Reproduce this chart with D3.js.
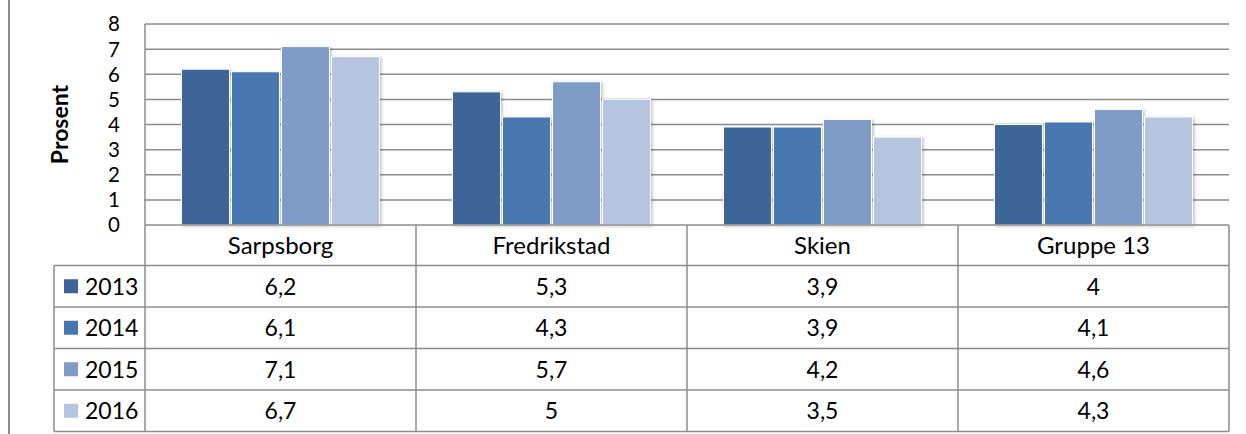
<!DOCTYPE html>
<html>
<head>
<meta charset="utf-8">
<script src="https://cdn.jsdelivr.net/npm/d3@7"></script>
<style>
  body { margin: 0; background: #fff; }
  svg text { font-family: Lato, "Open Sans", sans-serif; fill: #000; }
</style>
</head>
<body>
<script>
var categories = ["Sarpsborg", "Fredrikstad", "Skien", "Gruppe 13"];
var years = ["2013", "2014", "2015", "2016"];
var values2013 = [6.2, 5.3, 3.9, 4];
var values2014 = [6.1, 4.3, 3.9, 4.1];
var values2015 = [7.1, 5.7, 4.2, 4.6];
var values2016 = [6.7, 5, 3.5, 4.3];
var yTicks = [0, 1, 2, 3, 4, 5, 6, 7, 8];

var series = [values2013, values2014, values2015, values2016];
var colors = ["#3d6597", "#4877b0", "#7f9cc7", "#b5c4df"];
var format = function (v) { return String(v).replace(".", ","); };

var width = 1246, height = 434;
var plot = { left: 145, right: 1229, top: 24, bottom: 225 };
var rowH = 41.5, headH = 40.5, legLeft = 54;
var lineCol = "#8c8c8c";
var fs = "23px";

var svg = d3.select("body")
  .append("svg")
  .attr("width", width)
  .attr("height", height);

var defs = svg.append("defs");
var f = defs.append("filter").attr("id", "shadow")
  .attr("x", "-10%").attr("y", "-10%").attr("width", "130%").attr("height", "130%");
f.append("feDropShadow")
  .attr("dx", 1.5).attr("dy", 1).attr("stdDeviation", 1.5)
  .attr("flood-color", "#000").attr("flood-opacity", 0.25);

var x = d3.scaleBand()
  .domain(categories)
  .range([plot.left, plot.right]);

var xInner = d3.scaleBand()
  .domain(years)
  .range([36.5, x.bandwidth() - 36.5])
  .paddingInner(0.04);

var y = d3.scaleLinear()
  .domain([0, 8])
  .range([plot.bottom, plot.top]);

// outer left frame line
svg.append("line")
  .attr("x1", 9).attr("x2", 9).attr("y1", 0).attr("y2", height)
  .attr("stroke", lineCol).attr("stroke-width", 2);

// gridlines
svg.append("g")
  .selectAll("line")
  .data(yTicks.filter(function (d) { return d > 0; }))
  .enter().append("line")
  .attr("x1", plot.left).attr("x2", plot.right)
  .attr("y1", function (d) { return y(d); })
  .attr("y2", function (d) { return y(d); })
  .attr("stroke", lineCol).attr("stroke-width", 1.5);

// y tick labels
svg.append("g")
  .selectAll("text")
  .data(yTicks)
  .enter().append("text")
  .attr("x", 120)
  .attr("y", function (d) { return y(d); })
  .attr("dy", "0.36em")
  .attr("text-anchor", "end")
  .style("font-size", "20.5px")
  .text(function (d) { return d; });

svg.append("text")
  .attr("transform", "translate(60," + (y(4)) + ") rotate(-90)")
  .attr("text-anchor", "middle")
  .attr("dy", "0.35em")
  .style("font-size", "23px")
  .style("font-weight", "bold")
  .text("Prosent");

// bars
var groups = svg.append("g")
  .selectAll("g")
  .data(years)
  .enter().append("g")
  .attr("fill", function (d, i) { return colors[i]; });

groups.selectAll("rect")
  .data(function (d, i) {
    return categories.map(function (c, j) { return { cat: c, year: d, value: series[i][j] }; });
  })
  .enter().append("rect")
  .attr("x", function (d) { return x(d.cat) + xInner(d.year); })
  .attr("width", xInner.bandwidth())
  .attr("y", function (d) { return y(d.value); })
  .attr("height", function (d) { return y(0) - y(d.value); })
  .attr("stroke", "#fff")
  .attr("stroke-width", 1)
  .attr("filter", "url(#shadow)");

// data table
var table = svg.append("g");
var tableBottom = plot.bottom + headH + rowH * years.length;

// horizontal lines
table.append("line")
  .attr("x1", plot.left).attr("x2", plot.right)
  .attr("y1", plot.bottom).attr("y2", plot.bottom)
  .attr("stroke", lineCol).attr("stroke-width", 1.5);
table.selectAll("line.row")
  .data(d3.range(years.length + 1))
  .enter().append("line")
  .attr("class", "row")
  .attr("x1", legLeft).attr("x2", plot.right)
  .attr("y1", function (d) { return plot.bottom + headH + d * rowH; })
  .attr("y2", function (d) { return plot.bottom + headH + d * rowH; })
  .attr("stroke", lineCol).attr("stroke-width", 1.5);

// vertical lines
table.selectAll("line.col")
  .data(categories.map(function (c) { return x(c); }).concat([plot.right]))
  .enter().append("line")
  .attr("class", "col")
  .attr("x1", function (d) { return d; }).attr("x2", function (d) { return d; })
  .attr("y1", function (d) { return d === plot.left ? plot.top : plot.bottom; })
  .attr("y2", tableBottom)
  .attr("stroke", lineCol).attr("stroke-width", 1.5);
table.append("line")
  .attr("x1", legLeft).attr("x2", legLeft)
  .attr("y1", plot.bottom + headH).attr("y2", tableBottom)
  .attr("stroke", lineCol).attr("stroke-width", 1.5);

// header labels
table.selectAll("text.cat")
  .data(categories)
  .enter().append("text")
  .attr("class", "cat")
  .attr("x", function (d) { return x(d) + x.bandwidth() / 2; })
  .attr("y", plot.bottom + headH / 2)
  .attr("dy", "0.36em")
  .attr("text-anchor", "middle")
  .style("font-size", "24px")
  .text(function (d) { return d; });

// rows
years.forEach(function (yr, i) {
  var cy = plot.bottom + headH + i * rowH + rowH / 2;
  table.append("rect")
    .attr("x", 64).attr("y", cy - 7)
    .attr("width", 14).attr("height", 14)
    .attr("fill", colors[i]);
  table.append("text")
    .attr("x", 85).attr("y", cy)
    .attr("dy", "0.36em")
    .style("font-size", fs)
    .text(yr);
  table.selectAll("text.v" + i)
    .data(series[i])
    .enter().append("text")
    .attr("x", function (d, j) { return x(categories[j]) + x.bandwidth() / 2; })
    .attr("y", cy)
    .attr("dy", "0.36em")
    .attr("text-anchor", "middle")
    .style("font-size", fs)
    .text(function (d) { return format(d); });
});
</script>
</body>
</html>
